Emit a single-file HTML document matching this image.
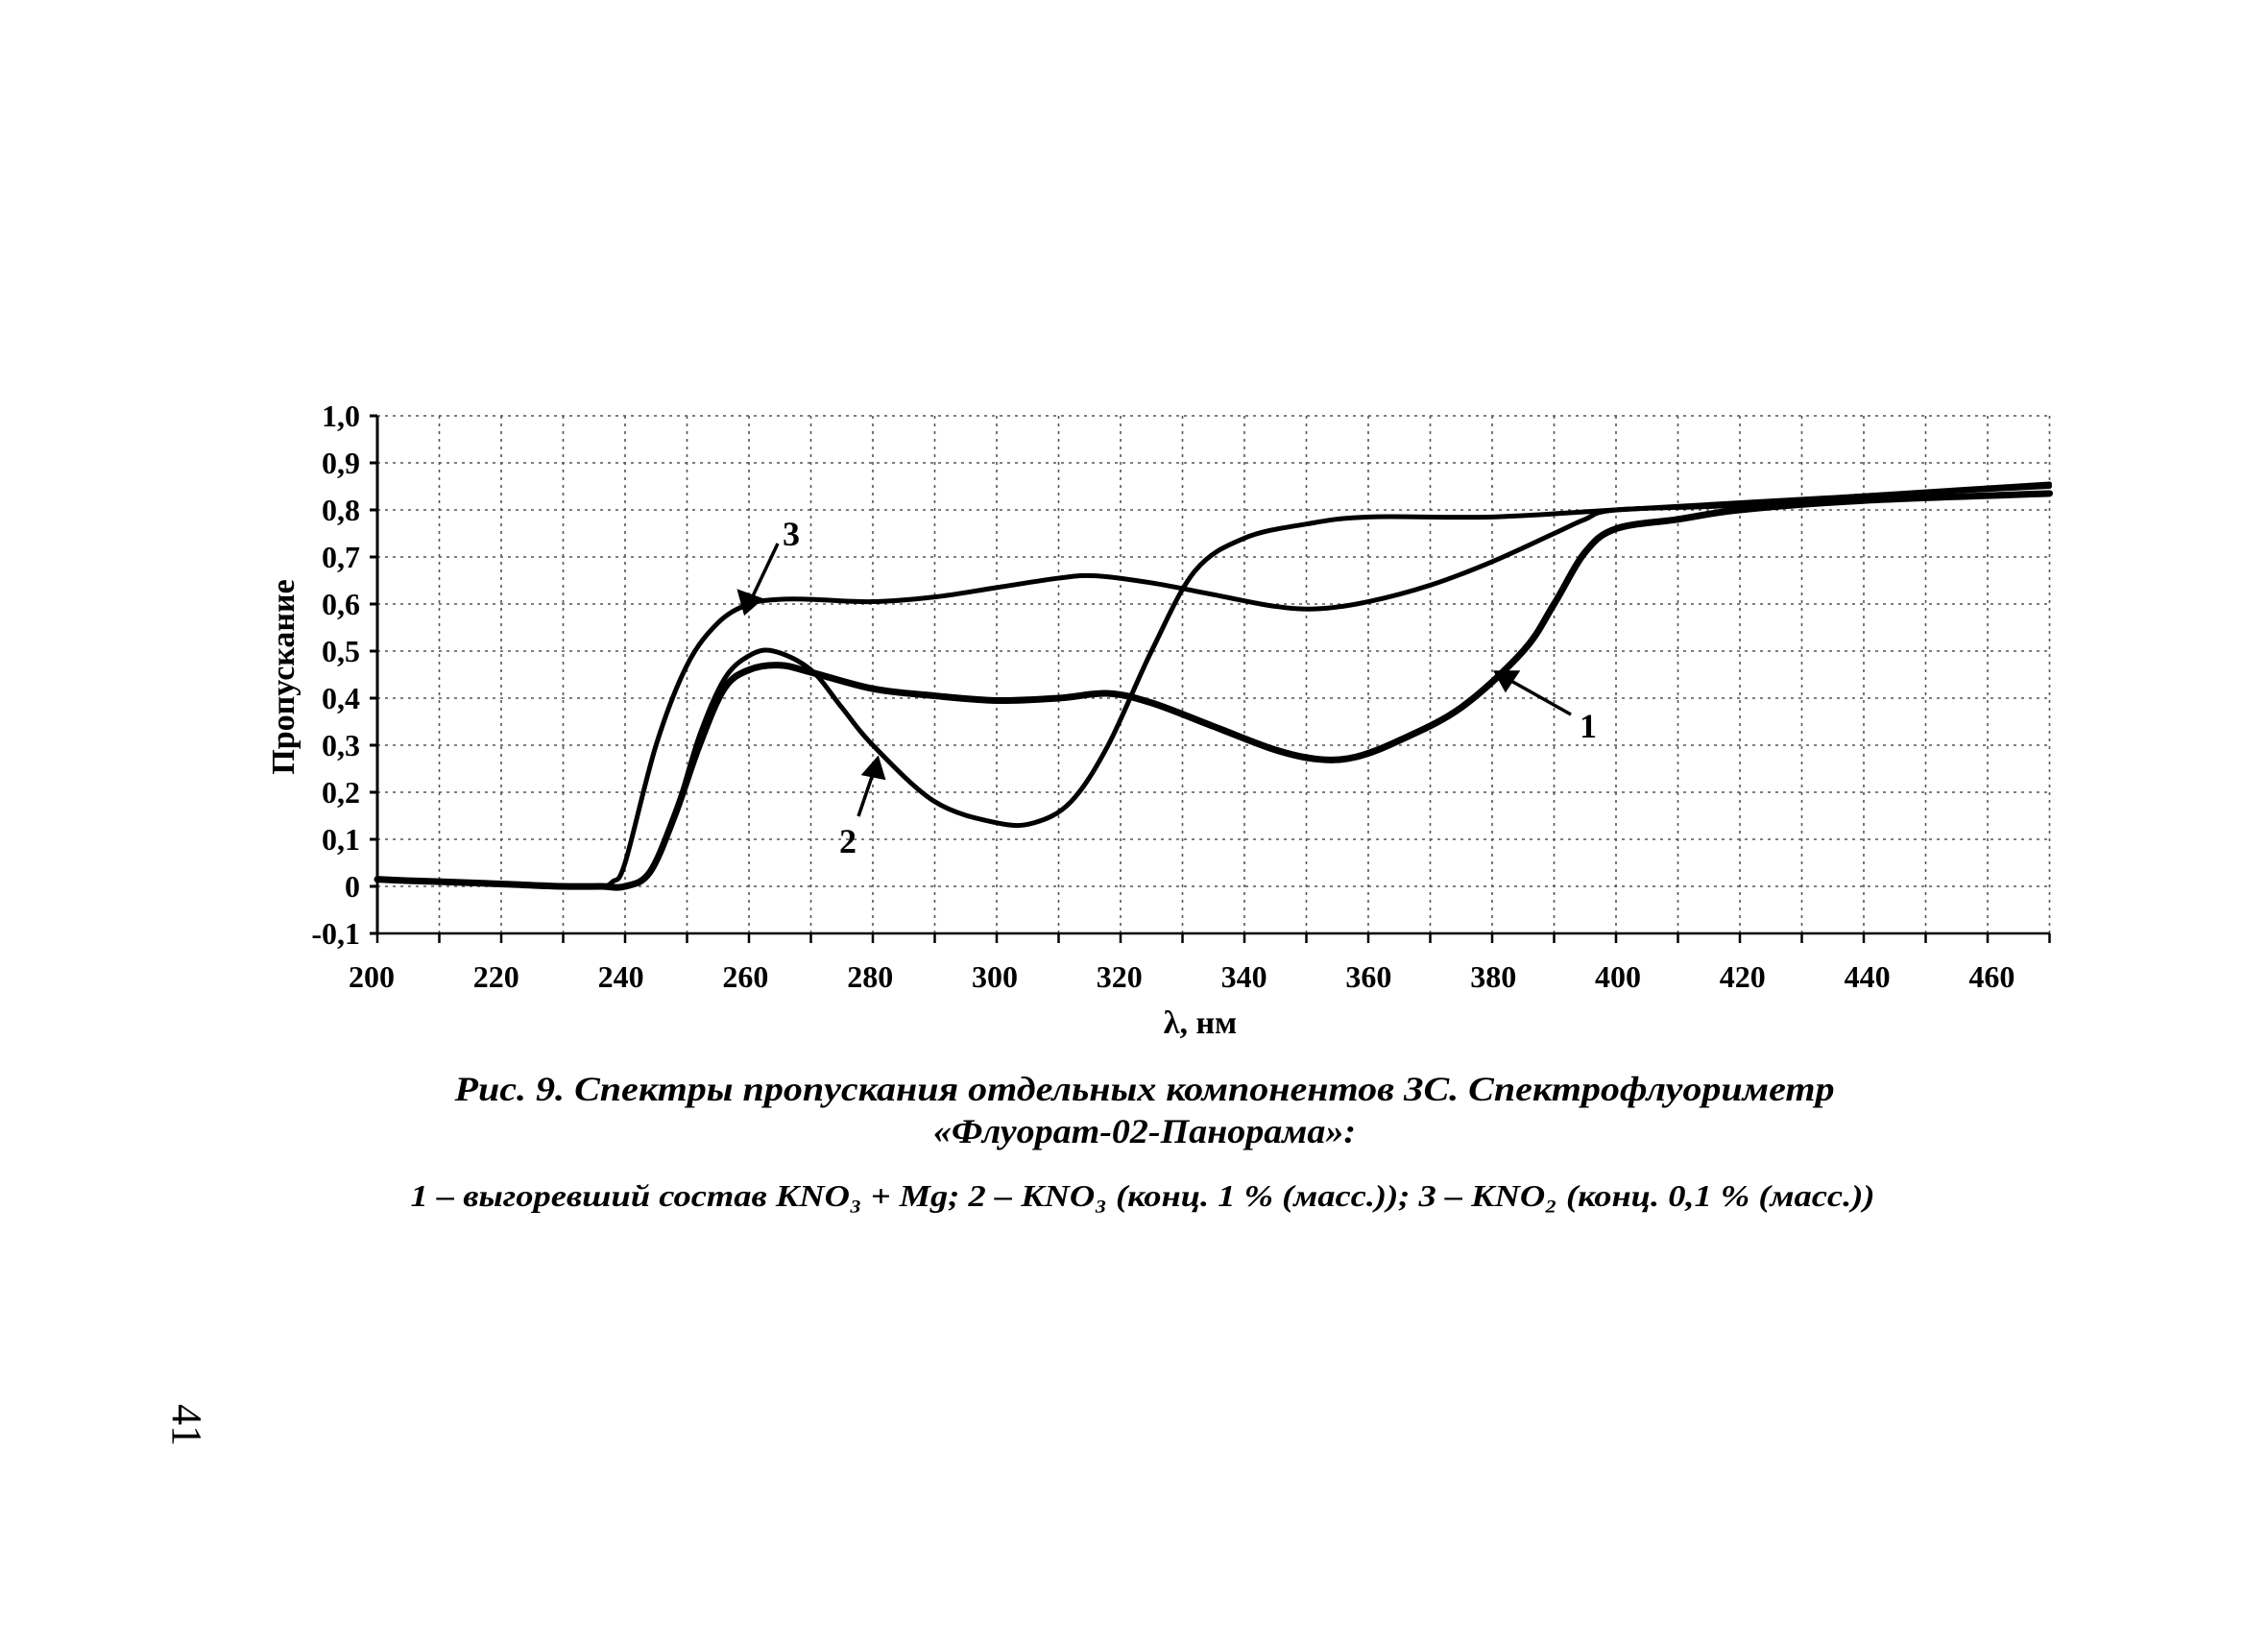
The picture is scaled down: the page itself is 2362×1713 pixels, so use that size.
<!DOCTYPE html>
<html><head><meta charset="utf-8"><style>html,body{margin:0;padding:0;background:#fff}svg{display:block}</style></head>
<body>
<svg id="s" width="2362" height="1713" viewBox="0 0 2362 1713" xmlns="http://www.w3.org/2000/svg">
<rect width="2362" height="1713" fill="#fff"/>
<g id="grid" stroke="#555" stroke-width="1.6" stroke-dasharray="3 5"></g>
<g id="axes" stroke="#000" stroke-width="3"></g>
<g id="ylab" font-family="Liberation Serif, serif" font-weight="bold" font-size="32" text-anchor="end"></g>
<g id="xlab" font-family="Liberation Serif, serif" font-weight="bold" font-size="32" text-anchor="middle"></g>
<g id="curves" fill="none" stroke="#000" stroke-linejoin="round" stroke-linecap="round"></g>
<text x="0" y="0" transform="translate(306,705) rotate(-90)" font-family="Liberation Serif, serif" font-weight="bold" font-size="34" text-anchor="middle">Пропускание</text>
<text x="1250" y="1076" font-family="Liberation Serif, serif" font-weight="bold" font-size="34" text-anchor="middle">λ, нм</text>
<g font-family="Liberation Serif, serif" font-weight="bold" font-size="36">
<text x="815" y="568">3</text>
<text x="874" y="888">2</text>
<text x="1645" y="768">1</text>
</g>
<g stroke="#000" stroke-width="3.5" fill="#000">
<line x1="810" y1="566" x2="782" y2="625"/><polygon points="776,638 770,616 792,624"/>
<line x1="894" y1="850" x2="910" y2="803"/><polygon points="914,790 900,806 920,810"/>
<line x1="1636" y1="744" x2="1572" y2="708"/><polygon points="1558,700 1580,700 1568,718"/>
</g>
<g font-family="Liberation Serif, serif" font-weight="bold" font-style="italic" font-size="36" text-anchor="middle">
<text x="1192" y="1146" textLength="1437" lengthAdjust="spacingAndGlyphs">Рис. 9. Спектры пропускания отдельных компонентов ЗС. Спектрофлуориметр</text>
<text x="1192" y="1190" textLength="440" lengthAdjust="spacingAndGlyphs">«Флуорат-02-Панорама»:</text>
<text x="1190" y="1256" font-size="32" textLength="1525" lengthAdjust="spacingAndGlyphs">1 – выгоревший состав KNO₃ + Mg; 2 – KNO₃ (конц. 1 % (масс.)); 3 – KNO₂ (конц. 0,1 % (масс.))</text>
</g>
<text x="0" y="0" transform="translate(180,1484) rotate(90)" font-family="Liberation Serif, serif" font-size="44" text-anchor="middle">41</text>
</svg>
<script>
const NS="http://www.w3.org/2000/svg";
const X=n=>393+(n-200)*6.45, Y=v=>923-v*490;
function el(p,t,a){const e=document.createElementNS(NS,t);for(const k in a)e.setAttribute(k,a[k]);p.appendChild(e);return e;}
const g=document.getElementById('grid'),ax=document.getElementById('axes');
for(let n=210;n<=470;n+=10) el(g,'line',{x1:X(n),y1:Y(1),x2:X(n),y2:Y(-0.1)});
for(let i=0;i<=10;i++){const v=i/10;el(g,'line',{x1:X(200),y1:Y(v),x2:X(470),y2:Y(v)});}
el(ax,'line',{x1:X(200),y1:Y(1),x2:X(200),y2:Y(-0.1)});
el(ax,'line',{x1:X(200),y1:Y(-0.1),x2:X(470),y2:Y(-0.1),'stroke-width':2.5});
for(let i=-1;i<=10;i++){el(ax,'line',{x1:X(200)-8,y1:Y(i/10),x2:X(200),y2:Y(i/10)});}
for(let n=200;n<=470;n+=10){el(ax,'line',{x1:X(n),y1:Y(-0.1),x2:X(n),y2:Y(-0.1)+10,'stroke-width':2.5});}
const yl=document.getElementById('ylab');
const labs=['-0,1','0','0,1','0,2','0,3','0,4','0,5','0,6','0,7','0,8','0,9','1,0'];
labs.forEach((t,i)=>{el(yl,'text',{x:375,y:Y((i-1)/10)+11}).textContent=t;});
const xl=document.getElementById('xlab');
for(let n=200;n<=460;n+=20){el(xl,'text',{x:X(n)-6+(n-200)*0.04,y:1028}).textContent=n;}
function path(pts,w){let d='';const P=pts.map(p=>[X(p[0]),Y(p[1])]);
 d='M'+P[0][0]+','+P[0][1];
 for(let i=0;i<P.length-1;i++){const p0=P[i-1]||P[i],p1=P[i],p2=P[i+1],p3=P[i+2]||P[i+1];
  const c1=[p1[0]+(p2[0]-p0[0])/6,p1[1]+(p2[1]-p0[1])/6],c2=[p2[0]-(p3[0]-p1[0])/6,p2[1]-(p3[1]-p1[1])/6];
  d+=' C'+c1+' '+c2+' '+p2;}
 el(document.getElementById('curves'),'path',{d:d,'stroke-width':w});}
const base=[[200,0.015],[205,0.012],[210,0.01],[220,0.005],[230,0.0],[236,0.0]];
path(base.concat([[238,0.01],[240,0.05],[245,0.3],[250,0.47],[255,0.56],[260,0.6],[265,0.61],[270,0.61],[280,0.605],[290,0.615],[300,0.635],[310,0.655],[316,0.66],[325,0.645],[335,0.62],[345,0.595],[352,0.59],[360,0.605],[370,0.64],[380,0.69],[390,0.75],[395,0.78],[400,0.8],[420,0.81],[440,0.83],[470,0.855]]),5);
path(base.concat([[240,0.0],[244,0.03],[248,0.15],[252,0.3],[256,0.42],[260,0.46],[265,0.47],[270,0.455],[280,0.42],[290,0.405],[300,0.395],[310,0.4],[318,0.41],[325,0.39],[335,0.34],[345,0.29],[352,0.27],[358,0.275],[365,0.31],[375,0.38],[385,0.5],[390,0.6],[395,0.71],[400,0.76],[410,0.78],[420,0.8],[440,0.82],[470,0.835]]),7);
path([[240,0.0],[244,0.03],[248,0.15],[252,0.32],[256,0.44],[260,0.49],[264,0.5],[270,0.46],[275,0.38],[280,0.3],[290,0.18],[300,0.135],[306,0.135],[312,0.18],[318,0.3],[325,0.5],[332,0.67],[340,0.74],[350,0.77],[360,0.785],[380,0.785],[400,0.8],[440,0.83],[470,0.85]],5);
</script>
</body></html>
